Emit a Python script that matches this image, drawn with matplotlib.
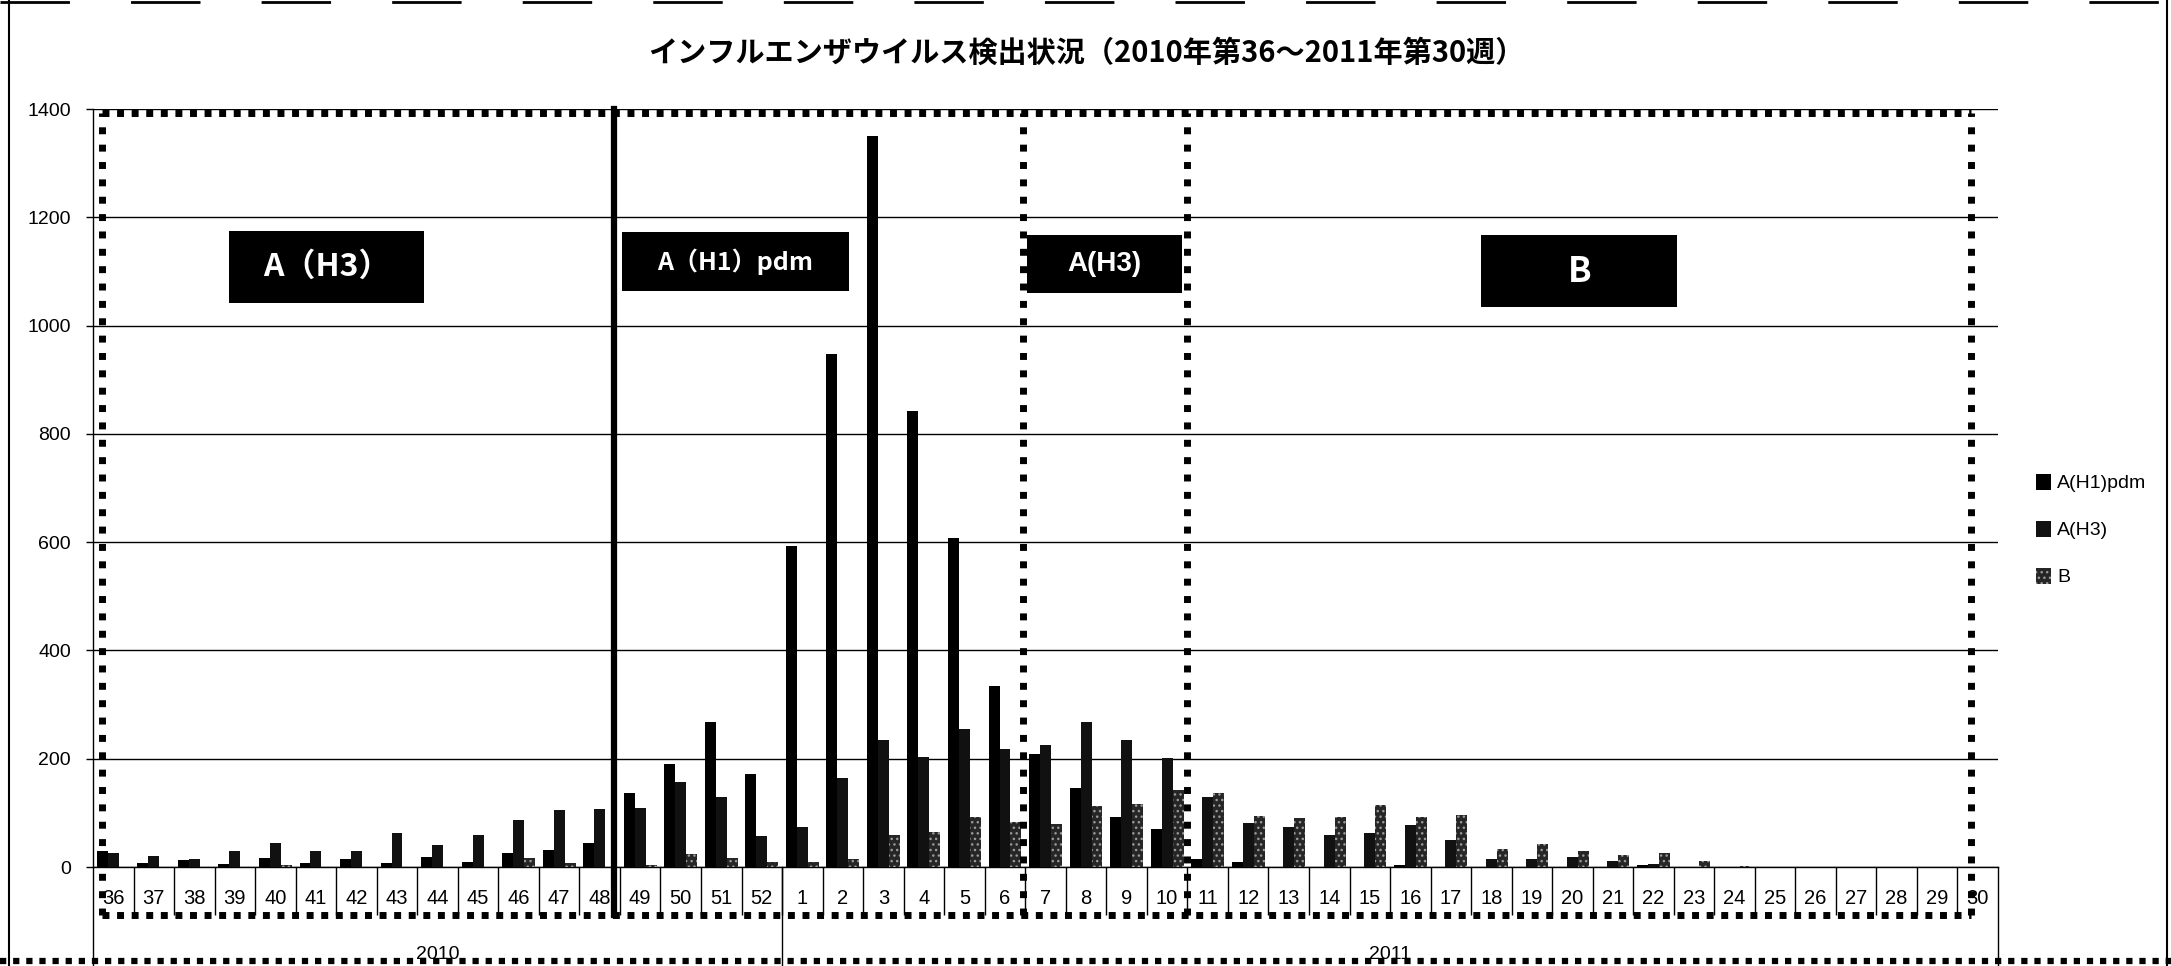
import numpy as np
import matplotlib
matplotlib.use('Agg')
import matplotlib.pyplot as plt
import matplotlib.transforms as mtransforms
from matplotlib.patches import Rectangle
from matplotlib.lines import Line2D

plt.rcParams['font.family'] = ['Liberation Sans', 'Noto Sans CJK JP']

# 週 (2010年第36週 ～ 2011年第30週)
weeks = [str(w) for w in range(36, 53)] + [str(w) for w in range(1, 31)]
years = ['2010', '2011']
year_sizes = [17, 30]

h1pdm = [29, 7, 13, 5, 16, 8, 15, 8, 18, 10, 25, 31, 45,
         137, 190, 268, 172,
         592, 948, 1350, 842, 607, 335, 208, 145, 92, 71,
         15, 9, 0, 0, 0, 3, 0, 0, 0, 0, 0, 3, 0, 0, 0, 0, 0, 0, 0, 0]
h3 = [26, 20, 15, 29, 44, 29, 29, 63, 40, 60, 86, 105, 108,
      109, 157, 130, 57,
      74, 165, 235, 204, 255, 218, 226, 268, 234, 201,
      129, 82, 73, 60, 63, 78, 50, 15, 14, 18, 12, 6, 0, 0, 0, 0, 0, 0, 0, 0]
b = [0, 0, 0, 0, 3, 0, 0, 0, 0, 0, 16, 8, 0,
     4, 24, 17, 9,
     10, 15, 59, 65, 92, 84, 80, 112, 117, 143,
     137, 95, 91, 92, 114, 92, 96, 33, 42, 30, 22, 26, 12, 2, 0, 0, 0, 0, 0, 0]

title = 'インフルエンザウイルス検出状況（2010年第36～2011年第30週）'

fig = plt.figure(figsize=(21.71, 9.66), dpi=100)
ax = fig.add_axes([0.04284, 0.10248, 0.87748, 0.78468])

x = np.arange(len(weeks))
w = 0.27
ax.bar(x - w, h1pdm, w, color='black', label='A(H1)pdm', zorder=3)
ax.bar(x, h3, w, color='#111111', label='A(H3)', zorder=3)
ax.bar(x + w, b, w, facecolor='#262626', edgecolor='#9a9a9a', hatch='...',
       linewidth=0, label='B', zorder=3)

ax.set_xlim(-0.5, len(weeks) - 0.5)
ax.set_ylim(0, 1400)
ax.set_yticks(range(0, 1401, 200))
ax.yaxis.grid(True, color='black', linewidth=1)
ax.set_axisbelow(True)
for s in ['top', 'right']:
    ax.spines[s].set_visible(False)
ax.spines['left'].set_linewidth(1)
ax.spines['bottom'].set_linewidth(1)
ax.tick_params(axis='y', length=5, width=1, pad=11, labelsize=14)

ax.set_xticks(x, weeks)
ax.set_xticks(np.arange(0.5, len(weeks) - 1, 1), minor=True)
ax.tick_params(axis='x', which='major', length=0, pad=16, labelsize=14.5)
ax.tick_params(axis='x', which='minor', length=34.6, width=1, direction='out')

# 年の行
trans = mtransforms.blended_transform_factory(ax.transData, ax.transAxes)
bounds = np.cumsum([0] + year_sizes) - 0.5
for bx in bounds:
    ax.plot([bx, bx], [0, -0.135], transform=trans, color='black', lw=1, clip_on=False)
for i, yr in enumerate(years):
    cx = (bounds[i] + bounds[i + 1]) / 2
    ax.text(cx, -0.116, yr, transform=trans, ha='center', va='center', fontsize=14)

# 流行型の区切り
dot_h = dict(color='black', lw=5, linestyle=(0, (1, 1.1)), clip_on=False, zorder=5)
dot_v = dict(color='black', lw=5, linestyle=(0, (1, 1.5)), clip_on=False, zorder=5)
x_left, x_right, y_top, y_bot = -0.27, 45.83, 1393, -89
ax.plot([x_left, x_right], [y_top, y_top], **dot_h)
ax.plot([x_left, x_right], [y_bot, y_bot], **dot_h)
for xv in [x_left, 22.45, 26.5, x_right]:
    ax.plot([xv, xv], [y_bot, y_top], **dot_v)
ax.plot([12.35, 12.35], [y_bot, 1400], color='black', lw=4.5, clip_on=False, zorder=5)

boxes = [
    (2.86, 7.67, 1042, 1175, 'A（H3）', 23, 'Noto Sans CJK JP'),
    (12.56, 18.14, 1064, 1172, 'A（H1）pdm', 18, 'Noto Sans CJK JP'),
    (22.54, 26.36, 1060, 1167, 'A(H3)', 20, 'Liberation Sans'),
    (33.75, 38.59, 1034, 1167, 'B', 25, 'Noto Sans CJK JP'),
]
for x0, x1, y0, y1, txt, fs, fam in boxes:
    ax.add_patch(Rectangle((x0, y0), x1 - x0, y1 - y0, facecolor='black',
                           edgecolor='none', zorder=6))
    ax.text((x0 + x1) / 2, (y0 + y1) / 2, txt, color='white', fontsize=fs,
            fontweight='bold', ha='center', va='center', zorder=7,
            family=[fam, 'Noto Sans CJK JP'])

fig.text(1086 / 2171, 1 - 53 / 966, title, ha='center', va='center', fontsize=21,
         fontweight='bold', family=['Noto Sans CJK JP'])

fig.legend(loc='center left', bbox_to_anchor=(2026 / 2171, 1 - 530 / 966),
           frameon=False, fontsize=14, handlelength=0.8, handleheight=0.9,
           handletextpad=0.3, labelspacing=1.45, borderpad=0)

# 枠線
fig.add_artist(Line2D([9 / 2171, 9 / 2171], [0, 1], transform=fig.transFigure,
                      color='black', lw=1.5))
fig.add_artist(Line2D([2167 / 2171, 2167 / 2171], [0, 1], transform=fig.transFigure,
                      color='black', lw=1.5))
fig.add_artist(Line2D([0, 1], [0.998, 0.998], transform=fig.transFigure,
                      color='black', lw=2, linestyle=(0, (25, 22))))
fig.add_artist(Line2D([0, 1], [1 - 961 / 966] * 2, transform=fig.transFigure,
                      color='black', lw=4.5, linestyle=(0, (1, 1.1))))

fig.savefig('out.png', dpi=100)
